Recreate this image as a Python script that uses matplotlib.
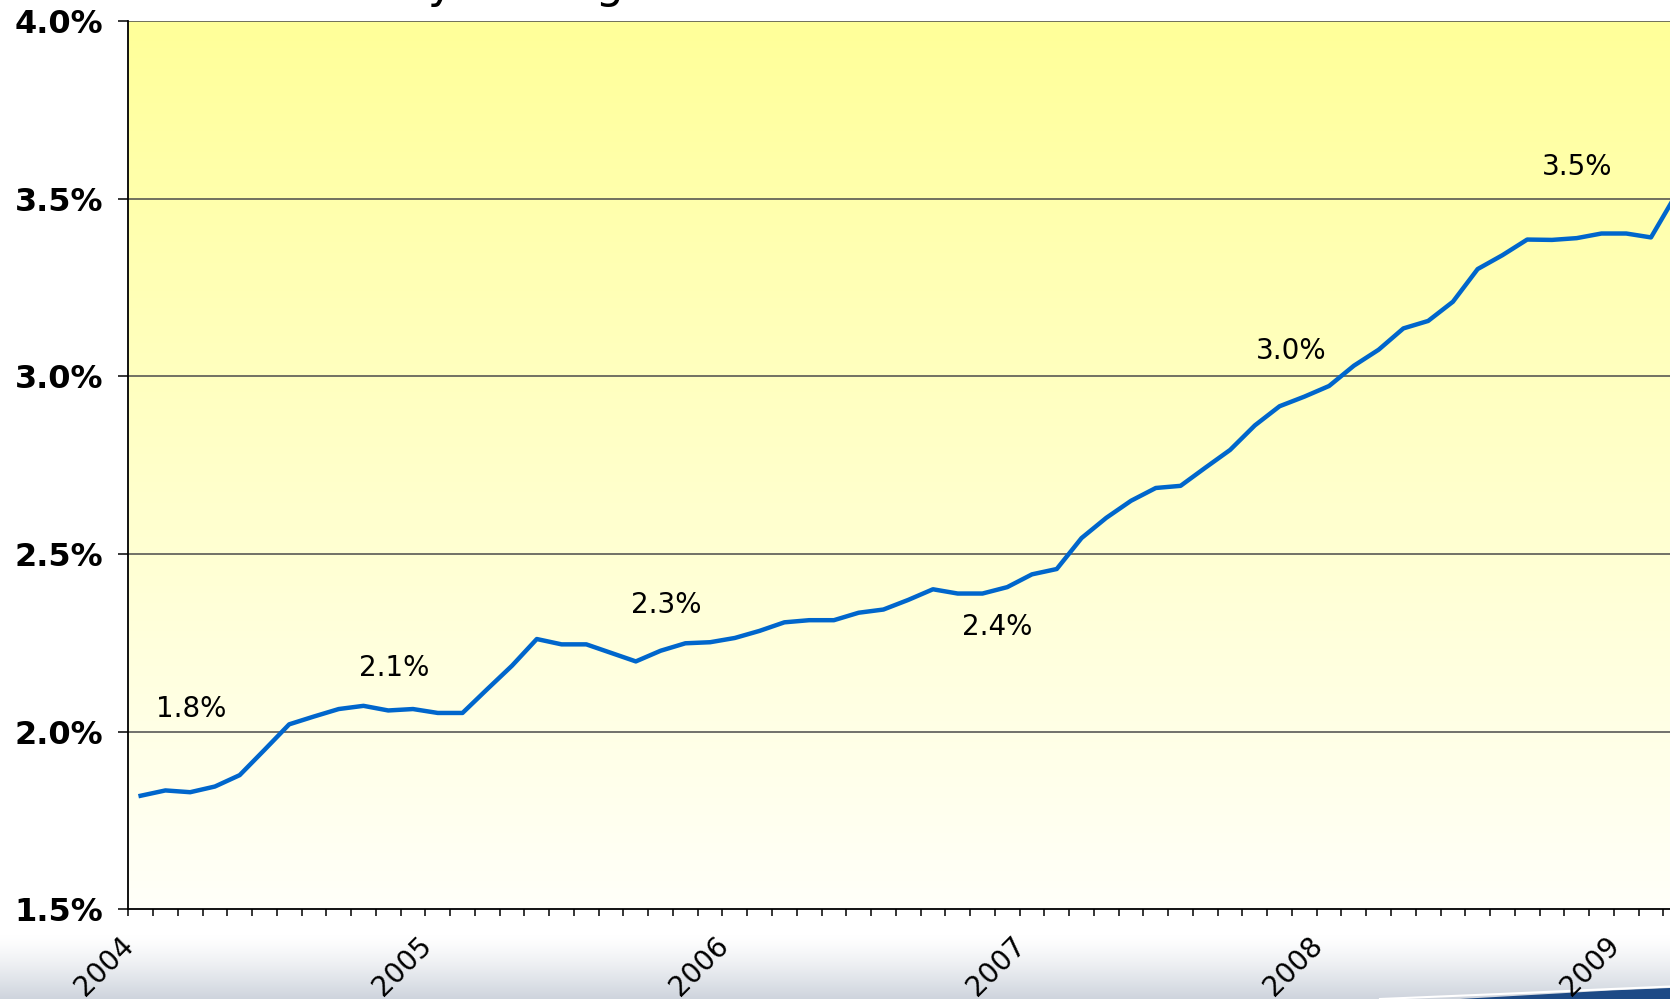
import numpy as np
import matplotlib.pyplot as plt
import matplotlib.transforms as mtrans
from matplotlib.patches import Polygon
from matplotlib.ticker import FixedLocator, FuncFormatter

# Monthly values, Jan 2004 - Mar 2009 (percent)
rate = [1.820, 1.835, 1.830, 1.846, 1.878, 1.949, 2.021, 2.043, 2.064, 2.073, 2.060, 2.064,
        2.053, 2.053, 2.120, 2.186, 2.261, 2.246, 2.246, 2.222, 2.198, 2.228, 2.249, 2.252,
        2.264, 2.284, 2.308, 2.314, 2.314, 2.335, 2.344, 2.371, 2.401, 2.389, 2.389, 2.407,
        2.443, 2.458, 2.545, 2.602, 2.650, 2.686, 2.692, 2.743, 2.793, 2.862, 2.916, 2.943,
        2.973, 3.030, 3.075, 3.135, 3.156, 3.210, 3.302, 3.341, 3.385, 3.384, 3.389, 3.402,
        3.402, 3.391, 3.510]
start_year = 2004
years = [2004, 2005, 2006, 2007, 2008, 2009]
y_ticks = [1.5, 2.0, 2.5, 3.0, 3.5, 4.0]

# callout labels on the line
label_text = ['1.8%', '2.1%', '2.3%', '2.4%', '3.0%', '3.5%']
label_x = [2004.211, 2004.896, 2005.810, 2006.925, 2007.914, 2008.875]
label_y = [2.063, 2.180, 2.356, 2.296, 3.072, 3.590]

x = start_year + (np.arange(len(rate)) + 0.5) / 12  # month centres
x_max = 2009.189
months = start_year + np.arange(0, int((x_max - start_year) * 12) + 1) / 12

fig = plt.figure(figsize=(16.7, 9.99), dpi=100)

# slide background at the bottom (grey fade + blue swoosh)
bg = fig.add_axes([0, 0, 1, 1], zorder=-5)
bg.set_xlim(0, 1670)
bg.set_ylim(999, 0)
bg.axis('off')
fade = np.linspace(0, 1, 100)[:, None] ** 1.3
top_c = np.array([255, 255, 255]) / 255
bot_c = np.array([206, 212, 221]) / 255
bg.imshow(top_c + (bot_c - top_c) * fade[:, :, None] * np.ones((1, 2, 1)),
          extent=[0, 1670, 999, 935], aspect='auto')
bg.add_patch(Polygon([(1460, 999), (1540, 994.5), (1610, 990.5), (1670, 988), (1670, 999)],
                     closed=True, facecolor='#1d4a86', edgecolor='none'))
bg.plot([1380, 1500, 1600, 1670], [999, 994, 989.5, 986.5], color='white', lw=1.5)

ax = fig.add_axes([0.0768, 0.0896, 0.9232, 0.8894])
ax.set_xlim(start_year, x_max)
ax.set_ylim(1.5, 4.0)

# yellow gradient plot area
grad = np.linspace(0, 1, 256)[:, None]
yel_top = np.array([255, 255, 153]) / 255
yel_bot = np.array([255, 255, 249]) / 255
ax.imshow(yel_top + (yel_bot - yel_top) * grad[:, :, None] * np.ones((1, 2, 1)),
          extent=[start_year, x_max, 1.5, 4.0], aspect='auto', zorder=0)

for v in y_ticks[1:]:
    ax.axhline(v, color='#4a4a4a', lw=1.1, zorder=1)

ax.plot(x, rate, color='#0066CC', lw=3.2, zorder=3)

for t, lx, ly in zip(label_text, label_x, label_y):
    ax.text(lx, ly, t, fontsize=20, ha='center', va='center', color='black', zorder=4)

ax.spines['right'].set_visible(False)
ax.spines['top'].set_visible(False)
for s in ['left', 'bottom']:
    ax.spines[s].set_linewidth(1.3)
    ax.spines[s].set_color('black')

ax.yaxis.set_major_locator(FixedLocator(y_ticks))
ax.yaxis.set_major_formatter(FuncFormatter(lambda v, p: '%.1f%%' % v))
ax.tick_params(axis='y', direction='out', length=7, width=1.1, pad=11, labelsize=23)
for lab in ax.get_yticklabels():
    lab.set_fontweight('bold')

ax.xaxis.set_major_locator(FixedLocator(years))
ax.xaxis.set_minor_locator(FixedLocator(months))
ax.set_xticklabels([str(y) for y in years], rotation=45, ha='right',
                   rotation_mode='anchor', fontsize=20)
ax.tick_params(axis='x', which='both', direction='out', length=5, width=1.1)
ax.tick_params(axis='x', which='major', pad=11)
shift = mtrans.ScaledTranslation(-6 / 72, 0, fig.dpi_scale_trans)
for lab in ax.get_xticklabels():
    lab.set_transform(lab.get_transform() + shift)

# title sits mostly above the visible slide area
fig.text(0.165, 1.0 + 2 / 999, 'Monthly Average', fontsize=32, ha='left', va='baseline')

fig.savefig('out.png', dpi=100)
